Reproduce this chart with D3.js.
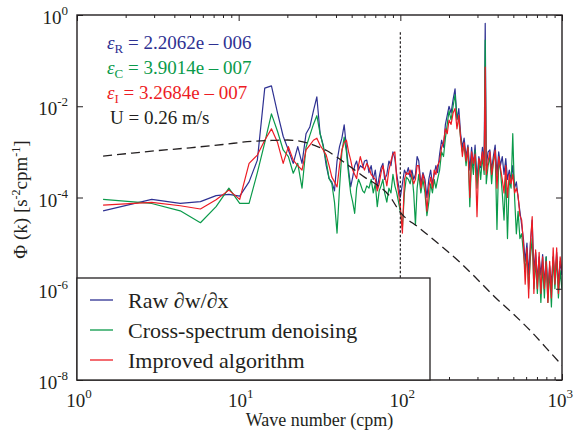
<!DOCTYPE html>
<html>
<head>
<meta charset="utf-8">
<script src="https://cdn.jsdelivr.net/npm/d3@7"></script>
<style>
  body { margin: 0; background: #fff; }
  svg { display: block; }
  text { font-family: "Liberation Serif", "Times New Roman", serif; }
</style>
</head>
<body>
<svg id="chart" width="574" height="439"></svg>
<script>
// ---------------- data ----------------
const waveNumber = [
  1.45, 2.9, 4.35, 5.8, 7.25, 8.7, 10.15, 11.6, 13.05, 14.5,
  15.95, 17.4, 18.85, 20.3, 21.75, 23.2, 24.65, 26.1, 27.55, 29.0,
  30.45, 31.9, 33.35, 34.8, 36.25, 37.7, 39.15, 40.6, 42.05, 43.5,
  44.95, 46.4, 47.85, 49.3, 50.75, 52.2, 53.65, 55.1, 56.55, 58.5,
  60, 62, 64, 66, 68, 70, 72, 74, 76, 78,
  80, 82.5, 85, 87.5, 90, 92.5, 95, 97.5, 100, 103,
  106, 109, 112, 115, 118, 121, 124, 127, 130, 134,
  138, 142, 146, 150, 154, 158, 162, 166, 170, 175,
  180, 185, 190, 195, 200, 206, 212, 218, 224, 230,
  236, 242, 248, 255, 262, 269, 276, 283, 290, 298,
  306, 314, 322, 330, 335, 340, 349, 358, 367, 376,
  386, 396, 406, 416, 427, 438, 449, 460, 472, 484,
  496, 509, 522, 535, 549, 563, 577, 592, 607, 622,
  638, 654, 670, 687, 704, 722, 740, 759, 778, 798,
  818, 839, 860, 882, 904, 927, 950, 974, 998
];

const rawSpectrum = [
  5.1e-5, 9.1e-5, 7.4e-5, 8.1e-5, 1.1e-4, 1.17e-4, 1.07e-4, 2.2e-4, 6.6e-4, 2.5e-2,
  2.8e-2, 7.1e-3, 2.2e-3, 1.1e-3, 5.6e-4, 1.3e-3, 5.6e-4, 2.5e-3, 3.5e-3, 7.9e-3,
  1.6e-2, 2.5e-3, 1.4e-3, 5.0e-4, 2.6e-4, 2.2e-4, 1.4e-4, 6.3e-4, 1.3e-3, 2.0e-3,
  3.9e-3, 1.26e-3, 4.0e-4, 1.7e-4, 2.8e-4, 5.0e-4, 6.3e-4, 4.0e-4, 5.0e-4, 4.5e-4,
  6.3e-4, 6.6e-4, 3.5e-4, 5.0e-4, 2.5e-4, 4.0e-4, 1.6e-4, 2.8e-4, 4.5e-4, 5.6e-4,
  2.5e-4, 3.2e-4, 6.3e-4, 5.0e-4, 1.0e-3, 7.1e-4, 3.2e-4, 1.8e-4, 1.0e-4, 2.0e-4,
  4.0e-4, 3.2e-4, 4.5e-4, 2.8e-4, 4.0e-4, 2.5e-4, 3.2e-4, 7.9e-4, 6.3e-4, 2.0e-4,
  3.5e-4, 2.5e-4, 1.0e-4, 2.5e-4, 4.0e-4, 2.0e-4, 3.2e-4, 5.0e-4, 3.5e-4, 8.9e-4,
  1.8e-3, 1.26e-3, 4.0e-3, 6.3e-3, 1.0e-2, 7.1e-3, 1.4e-2, 2.4e-2, 5.0e-3, 8.9e-3,
  2.5e-3, 1.26e-3, 2.0e-3, 7.9e-4, 1.4e-3, 4.0e-4, 1.26e-3, 5.0e-4, 1.4e-3, 2.5e-4,
  7.9e-4, 4.5e-4, 1.26e-3, 6.3e-4, 6.6e-1, 5.0e-4, 1.0e-3, 1.1e-3, 4.0e-4, 7.9e-4,
  1.4e-3, 3.2e-4, 1.0e-3, 5.0e-4, 7.9e-4, 3.2e-4, 7.1e-4, 2.5e-4, 4.0e-4, 2.5e-4,
  5.0e-4, 1.6e-4, 2.2e-4, 1.0e-4, 5.0e-5, 2.5e-5, 1.26e-5, 4.0e-6, 1.0e-5, 2.0e-6,
  1.0e-5, 3.2e-5, 2.5e-6, 6.3e-6, 1.6e-6, 5.0e-6, 2.0e-6, 5.6e-6, 1.26e-6, 5.0e-6,
  1.0e-6, 3.2e-6, 1.26e-6, 5.0e-6, 1.6e-6, 6.3e-6, 1.26e-6, 4.0e-6, 2.0e-6
];

const crossSpectrum = [
  9.1e-5, 7.4e-5, 5.1e-5, 2.8e-5, 6.3e-5, 1.6e-4, 7.4e-5, 7.4e-5, 3.5e-4, 1.6e-3,
  6.8e-3, 2.8e-3, 1.1e-3, 7.9e-4, 3.4e-4, 5.6e-4, 1.6e-4, 1.26e-3, 2.3e-3, 4.0e-3,
  6.2e-3, 2.5e-3, 1.3e-3, 6.3e-4, 2.6e-4, 2.0e-4, 7.9e-5, 1.66e-5, 1.6e-4, 1.0e-3,
  2.1e-3, 1.0e-3, 3.2e-4, 1.26e-4, 7.9e-5, 4.5e-5, 1.6e-4, 2.5e-4, 2.0e-4, 1.4e-4,
  1.26e-4, 1.8e-4, 1.6e-4, 2.5e-4, 1.26e-4, 2.0e-4, 6.3e-5, 1.4e-4, 1.8e-4, 2.5e-4,
  1.26e-4, 7.9e-5, 1.6e-4, 1.26e-4, 3.2e-4, 1.8e-4, 1.26e-4, 7.9e-5, 5.0e-5, 2.2e-5,
  1.26e-4, 2.8e-4, 2.5e-4, 2.0e-4, 3.2e-4, 1.26e-4, 2.5e-5, 1.6e-4, 3.2e-4, 1.26e-4,
  2.5e-4, 1.26e-4, 4.0e-5, 7.9e-5, 2.0e-4, 1.26e-4, 2.5e-4, 1.6e-4, 2.5e-4, 4.0e-4,
  1.0e-3, 7.9e-4, 2.0e-3, 4.0e-3, 7.9e-3, 5.0e-3, 1.0e-2, 1.8e-2, 5.6e-3, 5.0e-3,
  2.0e-3, 1.0e-3, 1.4e-3, 5.0e-4, 1.26e-3, 6.3e-5, 7.9e-4, 3.2e-4, 1.1e-3, 1.6e-4,
  6.3e-4, 2.5e-4, 7.9e-4, 3.2e-4, 2.8e-1, 2.0e-4, 5.0e-4, 7.9e-4, 2.0e-4, 6.3e-4,
  1.0e-3, 2.0e-5, 6.3e-4, 4.0e-4, 1.26e-4, 3.2e-5, 3.2e-4, 1.26e-5, 2.5e-4, 1.6e-4,
  2.5e-3, 1.0e-4, 1.6e-5, 5.0e-5, 1.26e-5, 1.6e-5, 6.3e-6, 2.5e-6, 6.3e-6, 1.0e-6,
  5.0e-6, 1.26e-5, 1.0e-6, 4.0e-6, 7.9e-7, 4.0e-6, 5.0e-7, 3.2e-6, 6.3e-7, 5.0e-6,
  5.0e-7, 2.5e-6, 4.0e-7, 5.0e-6, 1.0e-6, 5.0e-6, 6.3e-7, 2.5e-6, 1.0e-6
];

const improvedSpectrum = [
  6.8e-5, 7.8e-5, 6.6e-5, 5.6e-5, 8.9e-5, 1.45e-4, 9.1e-5, 5.6e-4, 8.5e-4, 1.8e-3,
  3.2e-3, 1.6e-3, 5.6e-4, 1.3e-3, 6.6e-4, 5.0e-4, 4.0e-4, 1.1e-3, 1.4e-3, 1.8e-3,
  2.0e-3, 1.4e-3, 1.1e-3, 8.5e-4, 5.0e-4, 2.8e-4, 2.2e-4, 1.7e-4, 5.0e-4, 1.1e-3,
  1.6e-3, 1.8e-3, 1.0e-3, 6.6e-4, 4.0e-4, 3.2e-4, 2.6e-4, 5.0e-4, 7.9e-4, 5.0e-4,
  4.0e-4, 5.6e-4, 4.5e-4, 3.2e-4, 2.8e-4, 2.5e-4, 1.4e-4, 2.0e-4, 3.5e-4, 5.0e-4,
  3.2e-4, 1.8e-4, 4.0e-4, 6.3e-4, 8.9e-4, 1.0e-3, 2.5e-4, 1.26e-4, 6.3e-5, 1.66e-5,
  2.5e-4, 3.5e-4, 3.2e-4, 4.0e-4, 2.8e-4, 2.0e-4, 2.5e-4, 5.0e-4, 5.0e-4, 1.6e-4,
  3.2e-4, 2.0e-4, 5.0e-5, 1.6e-4, 2.8e-4, 1.6e-4, 4.0e-4, 3.2e-4, 5.0e-4, 6.3e-4,
  1.26e-3, 1.6e-3, 3.2e-3, 2.5e-3, 5.0e-3, 4.0e-3, 7.1e-3, 8.9e-3, 3.2e-3, 6.3e-3,
  2.0e-3, 7.9e-4, 1.6e-3, 6.3e-4, 1.26e-3, 1.0e-4, 1.0e-3, 5.6e-4, 8.9e-4, 3.8e-5,
  7.1e-4, 5.0e-4, 1.0e-3, 4.0e-4, 7.2e-2, 3.2e-4, 6.3e-4, 1.0e-3, 3.2e-4, 5.6e-4,
  1.1e-3, 1.6e-4, 7.9e-4, 4.5e-4, 2.5e-4, 1.26e-4, 5.0e-4, 1.0e-4, 3.2e-4, 2.0e-4,
  3.2e-4, 1.26e-4, 1.6e-4, 1.1e-4, 4.0e-5, 3.2e-5, 1.0e-5, 1.26e-6, 7.9e-6, 6.3e-7,
  1.0e-5, 3.8e-5, 7.9e-7, 7.1e-6, 1.0e-6, 6.3e-6, 7.9e-7, 5.0e-6, 1.0e-6, 4.0e-6,
  5.0e-7, 4.0e-6, 6.3e-7, 7.9e-6, 1.26e-6, 7.9e-6, 7.9e-7, 5.0e-6, 2.5e-6
];

// model (dashed) spectrum
const modelK = [1.45, 2, 3, 5, 8, 12, 16, 20, 25, 30, 35, 40, 50, 60, 70, 85, 100, 130, 176, 230, 300, 384, 500, 650, 800, 1000];
const modelSpectrum = [8.1e-4, 9.1e-4, 1.05e-3, 1.23e-3, 1.45e-3, 1.7e-3, 1.78e-3, 1.82e-3, 1.66e-3, 1.35e-3, 1.07e-3, 7.9e-4, 4.5e-4, 2.8e-4, 2.0e-4, 1.12e-4, 4.7e-5, 2.2e-5, 9.1e-6, 4.0e-6, 1.6e-6, 6.6e-7, 2.8e-7, 1.12e-7, 5.0e-8, 2.1e-8];

// vertical cutoff marker
const cutoffK = 100;
const cutoffRange = [1e-8, 0.42];

const seriesNames = ["Raw \u2202w/\u2202x", "Cross-spectrum denoising", "Improved algorithm"];
const seriesColors = ["#2e3192", "#0a9a4a", "#ed1c24"];

const xTickValues = [1, 10, 100, 1000];
const xTickExponents = ["0", "1", "2", "3"];
const yTickValues = [1, 1e-2, 1e-4, 1e-6, 1e-8];
const yTickExponents = ["0", "-2", "-4", "-6", "-8"];

const annotationSymbols = ["R", "C", "I"];
const annotationValues = ["2.2062e \u2013 006", "3.9014e \u2013 007", "3.2684e \u2013 007"];
const velocityText = "U = 0.26 m/s";

// ---------------- drawing ----------------
const W = 574, H = 439;
const M = { left: 77, right: 562, top: 15, bottom: 380 };
const ink = "#231f20";

const svg = d3.select("#chart");
svg.append("rect").attr("width", W).attr("height", H).attr("fill", "#fff");

const x = d3.scaleLog().domain([1, 1000]).range([M.left, M.right]);
const y = d3.scaleLog().domain([1e-8, 1]).range([M.bottom, M.top]);

svg.append("clipPath").attr("id", "plotclip")
  .append("rect").attr("x", M.left).attr("y", M.top)
  .attr("width", M.right - M.left).attr("height", M.bottom - M.top);

const plot = svg.append("g").attr("clip-path", "url(#plotclip)");
const line = d3.line().x(d => x(d[0])).y(d => y(d[1]));

const seriesValues = [rawSpectrum, crossSpectrum, improvedSpectrum];
seriesValues.forEach((vals, i) => {
  plot.append("path")
    .datum(d3.zip(waveNumber, vals))
    .attr("d", line)
    .attr("fill", "none")
    .attr("stroke", seriesColors[i])
    .attr("stroke-width", 1.2)
    .attr("stroke-linejoin", "round");
});

// dashed model line
plot.append("path")
  .datum(d3.zip(modelK, modelSpectrum))
  .attr("d", d3.line().x(d => x(d[0])).y(d => y(d[1])).curve(d3.curveMonotoneX))
  .attr("fill", "none")
  .attr("stroke", ink)
  .attr("stroke-width", 1.3)
  .attr("stroke-dasharray", "9,5");

// dotted vertical line
plot.append("line")
  .attr("x1", x(cutoffK)).attr("x2", x(cutoffK))
  .attr("y1", y(cutoffRange[1])).attr("y2", y(cutoffRange[0]))
  .attr("stroke", ink).attr("stroke-width", 1.2)
  .attr("stroke-dasharray", "2.5,2");

// ticks
const isPow10 = v => Math.abs(Math.log10(v) - Math.round(Math.log10(v))) < 1e-9;
const xMinor = x.ticks().filter(v => !isPow10(v));

function tickGroup(axis, transform) {
  const g = svg.append("g").attr("transform", transform).attr("color", ink).call(axis);
  g.select(".domain").remove();
  g.selectAll("line").attr("stroke-width", 1);
  return g;
}
tickGroup(d3.axisBottom(x).tickValues(xTickValues).tickSize(-6).tickFormat(""), `translate(0,${M.bottom})`);
tickGroup(d3.axisBottom(x).tickValues(xMinor).tickSize(-3).tickFormat(""), `translate(0,${M.bottom})`);
tickGroup(d3.axisTop(x).tickValues(xTickValues).tickSize(-6).tickFormat(""), `translate(0,${M.top})`);
tickGroup(d3.axisTop(x).tickValues(xMinor).tickSize(-3).tickFormat(""), `translate(0,${M.top})`);
tickGroup(d3.axisLeft(y).tickValues(yTickValues).tickSize(-6).tickFormat(""), `translate(${M.left},0)`);
tickGroup(d3.axisRight(y).tickValues(yTickValues).tickSize(-6).tickFormat(""), `translate(${M.right},0)`);

// frame
svg.append("rect")
  .attr("x", M.left).attr("y", M.top)
  .attr("width", M.right - M.left).attr("height", M.bottom - M.top)
  .attr("fill", "none").attr("stroke", ink).attr("stroke-width", 1.4);

// x tick labels (the last one is kept inside the page edge)
xTickValues.forEach((v, i) => {
  const last = i === xTickValues.length - 1;
  const t = svg.append("text")
    .attr("x", last ? W - 1 : x(v) + 2).attr("y", 407)
    .attr("text-anchor", last ? "end" : "middle")
    .attr("font-size", 19).attr("fill", ink);
  t.append("tspan").text("10");
  t.append("tspan").attr("dy", -9).attr("font-size", 13).text(xTickExponents[i]);
});

// y tick labels
yTickValues.forEach((v, i) => {
  const t = svg.append("text")
    .attr("x", 68).attr("y", y(v) + 9)
    .attr("text-anchor", "end").attr("font-size", 19).attr("fill", ink);
  t.append("tspan").text("10");
  t.append("tspan").attr("dy", -9).attr("font-size", 13).text(yTickExponents[i]);
});

// axis titles
svg.append("text")
  .attr("x", (M.left + M.right) / 2).attr("y", 426)
  .attr("text-anchor", "middle").attr("font-size", 18).attr("fill", ink)
  .text("Wave number (cpm)");

const yt = svg.append("text")
  .attr("transform", `translate(27,${(M.top + M.bottom) / 2 + 2}) rotate(-90)`)
  .attr("text-anchor", "middle").attr("font-size", 19).attr("fill", ink);
yt.append("tspan").text("\u03A6 (k) [s");
yt.append("tspan").attr("dy", -7).attr("font-size", 12).text("-2");
yt.append("tspan").attr("dy", 7).text("cpm");
yt.append("tspan").attr("dy", -7).attr("font-size", 12).text("-1");
yt.append("tspan").attr("dy", 7).text("]");

// annotations
annotationSymbols.forEach((s, i) => {
  const t = svg.append("text")
    .attr("x", 107).attr("y", 49 + i * 25)
    .attr("font-size", 19).attr("fill", seriesColors[i]);
  t.append("tspan").attr("font-style", "italic").text("\u03B5");
  t.append("tspan").attr("dy", 4).attr("font-size", 13).text(s);
  t.append("tspan").attr("dy", -4).text(" = " + annotationValues[i]);
});
svg.append("text")
  .attr("x", 110).attr("y", 49 + 3 * 25)
  .attr("font-size", 19).attr("fill", ink)
  .text(velocityText);

// legend
const lg = svg.append("g");
lg.append("rect")
  .attr("x", M.left).attr("y", 278)
  .attr("width", 353).attr("height", M.bottom - 278)
  .attr("fill", "#fff").attr("stroke", ink).attr("stroke-width", 1.3);
seriesNames.forEach((name, i) => {
  const ly = 300 + i * 30;
  lg.append("line")
    .attr("x1", 90).attr("x2", 113).attr("y1", ly).attr("y2", ly)
    .attr("stroke", seriesColors[i]).attr("stroke-width", 1.3);
  lg.append("text")
    .attr("x", 128).attr("y", ly + 8)
    .attr("font-size", 22).attr("fill", ink)
    .text(name);
});
</script>
</body>
</html>
